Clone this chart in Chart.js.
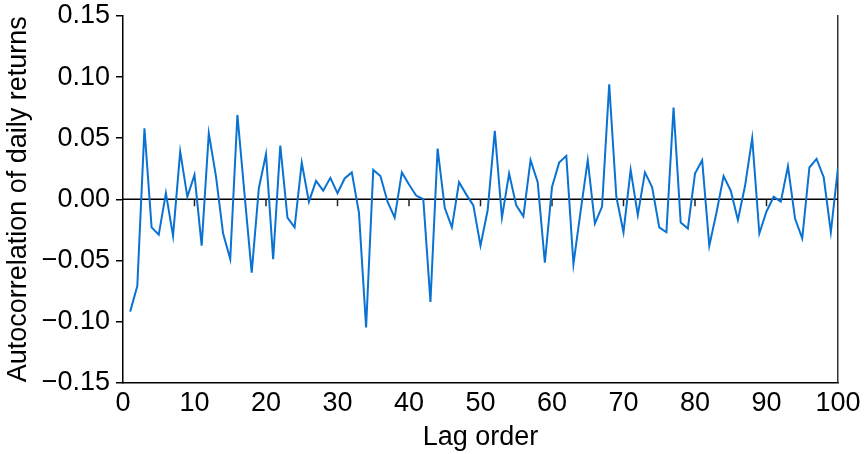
<!DOCTYPE html>
<html>
<head>
<meta charset="utf-8">
<script src="https://cdn.jsdelivr.net/npm/chart.js@4"></script>
<style>
html,body{margin:0;padding:0;background:#fff;}
#wrap{width:864px;height:454px;position:relative;}
</style>
</head>
<body>
<div id="wrap"><canvas id="c" width="864" height="454"></canvas></div>
<script>
const lags = [1,2,3,4,5,6,7,8,9,10,11,12,13,14,15,16,17,18,19,20,
21,22,23,24,25,26,27,28,29,30,31,32,33,34,35,36,37,38,39,40,
41,42,43,44,45,46,47,48,49,50,51,52,53,54,55,56,57,58,59,60,
61,62,63,64,65,66,67,68,69,70,71,72,73,74,75,76,77,78,79,80,
81,82,83,84,85,86,87,88,89,90,91,92,93,94,95,96,97,98,99,100];
const autocorr = [-0.092,-0.071,0.058,-0.023,-0.029,0.005,-0.030,0.039,0.002,0.020,
-0.038,0.054,0.019,-0.028,-0.049,0.069,0.004,-0.060,0.009,0.037,
-0.049,0.044,-0.015,-0.023,0.030,-0.002,0.015,0.007,0.0175,0.005,
0.017,0.022,-0.011,-0.105,0.024,0.019,-0.002,-0.015,0.022,0.012,
0.003,0.000,-0.084,0.0415,-0.007,-0.023,0.014,0.004,-0.005,-0.038,
-0.009,0.056,-0.015,0.021,-0.005,-0.014,0.032,0.014,-0.052,0.010,
0.030,0.0355,-0.053,-0.010,0.032,-0.020,-0.006,0.094,0.002,-0.027,
0.024,-0.013,0.022,0.010,-0.023,-0.027,0.075,-0.019,-0.024,0.021,
0.032,-0.038,-0.011,0.019,0.007,-0.017,0.011,0.050,-0.028,-0.010,
0.002,-0.002,0.027,-0.016,-0.032,0.026,0.033,0.018,-0.027,0.026];
const xTicks = [0,10,20,30,40,50,60,70,80,90,100];
const yTicks = [-0.15,-0.10,-0.05,0.00,0.05,0.10,0.15];
const xTitle = 'Lag order';
const yTitle = 'Autocorrelation of daily returns';

const FONT = 'Liberation Sans, Arial, sans-serif';
const fmtY = v => { const r = Math.round(v*100)/100; return (r < 0 ? '\u2212' : '') + Math.abs(r).toFixed(2); };

const zeroLine = {
  id: 'zeroLine',
  beforeDatasetsDraw(chart) {
    const {ctx, chartArea, scales} = chart;
    const y0 = scales.y.getPixelForValue(0);
    ctx.save();
    ctx.strokeStyle = '#000';
    ctx.lineWidth = 1.5;
    ctx.beginPath();
    ctx.moveTo(chartArea.left, y0);
    ctx.lineTo(chartArea.right, y0);
    ctx.stroke();
    ctx.strokeStyle = '#222';
    ctx.lineWidth = 1.5;
    xTicks.forEach(t => {
      if (t === 0 || t === 100) return;
      const x = scales.x.getPixelForValue(t);
      ctx.beginPath();
      ctx.moveTo(x, y0);
      ctx.lineTo(x, y0 + 7);
      ctx.stroke();
    });
    ctx.restore();
  }
};

new Chart(document.getElementById('c'), {
  type: 'line',
  data: {
    datasets: [{
      data: lags.map((l, i) => ({x: l, y: autocorr[i]})),
      borderColor: '#0a72d2',
      borderWidth: 2,
      pointRadius: 0,
      tension: 0,
      fill: false
    }]
  },
  options: {
    responsive: false,
    animation: false,
    devicePixelRatio: 1,
    layout: {padding: {top: 16, left: 0, right: 0, bottom: 0}},
    plugins: {legend: {display: false}, tooltip: {enabled: false}},
    scales: {
      x: {
        type: 'linear', min: 0, max: 100,
        afterBuildTicks: s => { s.ticks = xTicks.map(v => ({value: v})); },
        afterFit: s => { s.height = 71.5; s.paddingLeft = 0; s.paddingRight = 0; },
        grid: {display: false, drawTicks: false},
        border: {display: true, color: '#000', width: 1.5},
        ticks: {color: '#000', font: {family: FONT, size: 27}, padding: 5, maxRotation: 0, autoSkip: false,
          callback: v => String(v)},
        title: {display: true, text: xTitle, color: '#000', font: {family: FONT, size: 27}, padding: {top: 2, bottom: 0}}
      },
      y: {
        type: 'linear', min: -0.15, max: 0.15,
        afterBuildTicks: s => { s.ticks = yTicks.map(v => ({value: v})); },
        afterFit: s => { s.width = 123; s.paddingTop = 0; s.paddingBottom = 0; },
        grid: {display: true, drawOnChartArea: false, drawTicks: true, tickLength: 7, color: '#000', lineWidth: 1.5},
        border: {display: true, color: '#000', width: 1.5},
        ticks: {color: '#000', font: {family: FONT, size: 27}, padding: 6, callback: v => fmtY(v)},
        title: {display: true, text: yTitle, color: '#000', font: {family: FONT, size: 27}, padding: {top: 2, bottom: 0}}
      },
      yr: {
        type: 'linear', position: 'right', min: -0.15, max: 0.15,
        afterFit: s => { s.width = 26; s.paddingTop = 0; s.paddingBottom = 0; },
        grid: {display: false, drawTicks: false},
        border: {display: true, color: '#333', width: 1.5},
        ticks: {display: false}
      }
    }
  },
  plugins: [zeroLine]
});
</script>
</body>
</html>
